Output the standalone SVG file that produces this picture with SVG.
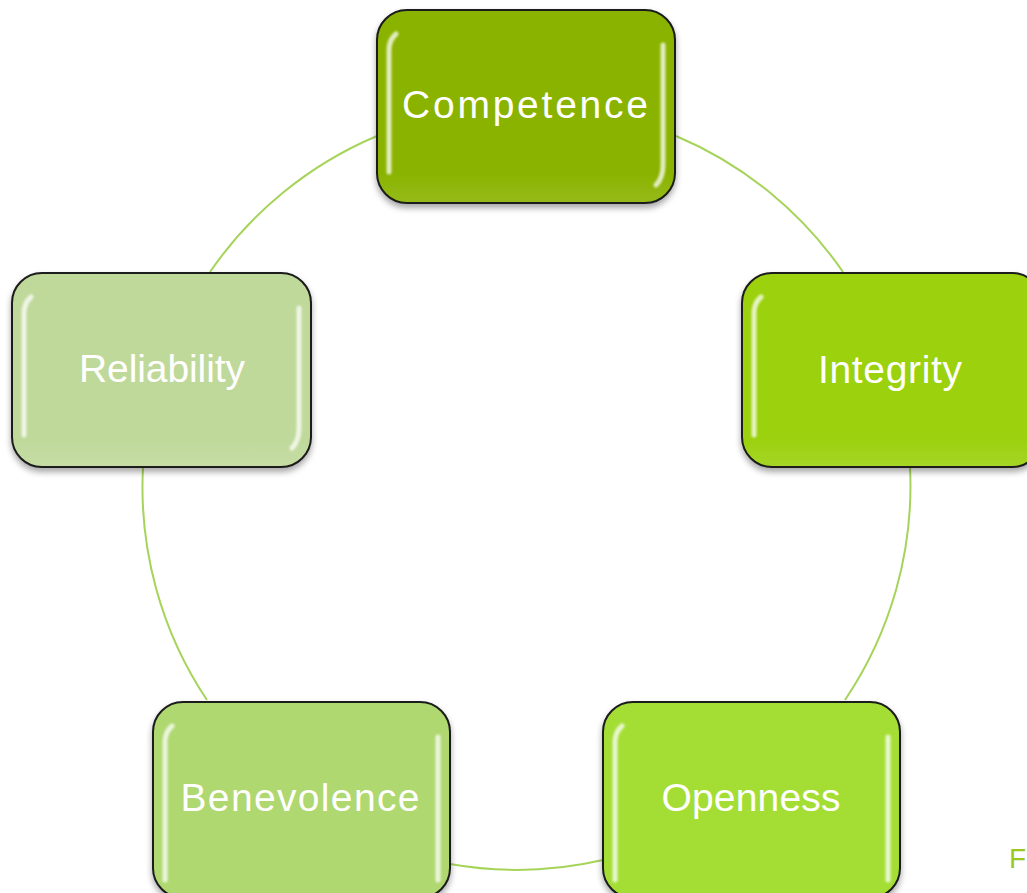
<svg xmlns="http://www.w3.org/2000/svg" width="1027" height="893" viewBox="0 0 1027 893">
<style>
.box{stroke:#1a1a1a;stroke-width:2}
.lbl{font-family:"Liberation Sans",Arial,sans-serif;font-size:39px;fill:#ffffff;text-anchor:middle}
.conn{fill:none;stroke:#a6d45a;stroke-width:2}
.hl{stroke:#ffffff;stroke-opacity:0.75;stroke-width:5;stroke-linecap:round;fill:none;filter:url(#soft)}
</style>
<defs>
<filter id="sh" x="-10%" y="-10%" width="120%" height="130%">
<feDropShadow dx="0" dy="4" stdDeviation="3" flood-color="#000" flood-opacity="0.35"/>
</filter>
<filter id="soft" filterUnits="userSpaceOnUse" x="0" y="0" width="1027" height="893">
<feGaussianBlur stdDeviation="0.9"/>
</filter>
<linearGradient id="gloss" x1="0" y1="0" x2="0" y2="1">
<stop offset="0" stop-color="#fff" stop-opacity="0"/>
<stop offset="0.85" stop-color="#fff" stop-opacity="0"/>
<stop offset="1" stop-color="#fff" stop-opacity="0.1"/>
</linearGradient>
</defs>
<rect width="1027" height="893" fill="#fff"/>
<g id="connectors">
<path class="conn" d="M676,136 A383,383 0 0 1 843,272"/>
<path class="conn" d="M910,467 A383,383 0 0 1 845,700"/>
<path class="conn" d="M603,860 A383,383 0 0 1 450,864"/>
<path class="conn" d="M207,700 A383,383 0 0 1 143,467"/>
<path class="conn" d="M210,272 A383,383 0 0 1 377,136"/>
</g>
<g id="competence">
<rect class="box" x="377" y="10" width="298" height="193" rx="30" fill="#8ab300" filter="url(#sh)"/>
<rect x="378" y="11" width="296" height="191" rx="29" fill="url(#gloss)"/>
<path class="hl" d="M396,34 Q389,40 389,50 L389,172"/>
<path class="hl" d="M663,45 L663,165 Q663,178 656,185"/>
<text class="lbl" x="525" y="118" textLength="246">Competence</text>
</g>
<g id="integrity">
<rect class="box" x="742" y="273" width="300" height="194" rx="30" fill="#9bd10f" filter="url(#sh)"/>
<rect x="743" y="274" width="298" height="192" rx="29" fill="url(#gloss)"/>
<path class="hl" d="M761,297 Q754,303 754,313 L754,435"/>
<text class="lbl" x="890" y="383" textLength="144">Integrity</text>
</g>
<g id="openness">
<rect class="box" x="603" y="702" width="297" height="196" rx="30" fill="#a4de35" filter="url(#sh)"/>
<path class="hl" d="M622,726 Q615,732 615,742 L615,880"/>
<path class="hl" d="M888,737 L888,880"/>
<text class="lbl" x="751" y="811" textLength="179">Openness</text>
</g>
<g id="benevolence">
<rect class="box" x="153" y="702" width="297" height="196" rx="30" fill="#afd870" filter="url(#sh)"/>
<path class="hl" d="M172,726 Q165,732 165,742 L165,880"/>
<path class="hl" d="M438,737 L438,880"/>
<text class="lbl" x="300" y="811" textLength="239">Benevolence</text>
</g>
<g id="reliability">
<rect class="box" x="12" y="273" width="299" height="194" rx="30" fill="#bfd99a" filter="url(#sh)"/>
<rect x="13" y="274" width="297" height="192" rx="29" fill="url(#gloss)"/>
<path class="hl" d="M31,297 Q24,303 24,313 L24,435"/>
<path class="hl" d="M299,308 L299,428 Q299,441 292,448"/>
<text class="lbl" x="162" y="382" textLength="166">Reliability</text>
</g>
<text x="1009" y="868" style="font-family:'Liberation Sans',Arial,sans-serif;font-size:28px;fill:#9bc81f">F</text>
</svg>
